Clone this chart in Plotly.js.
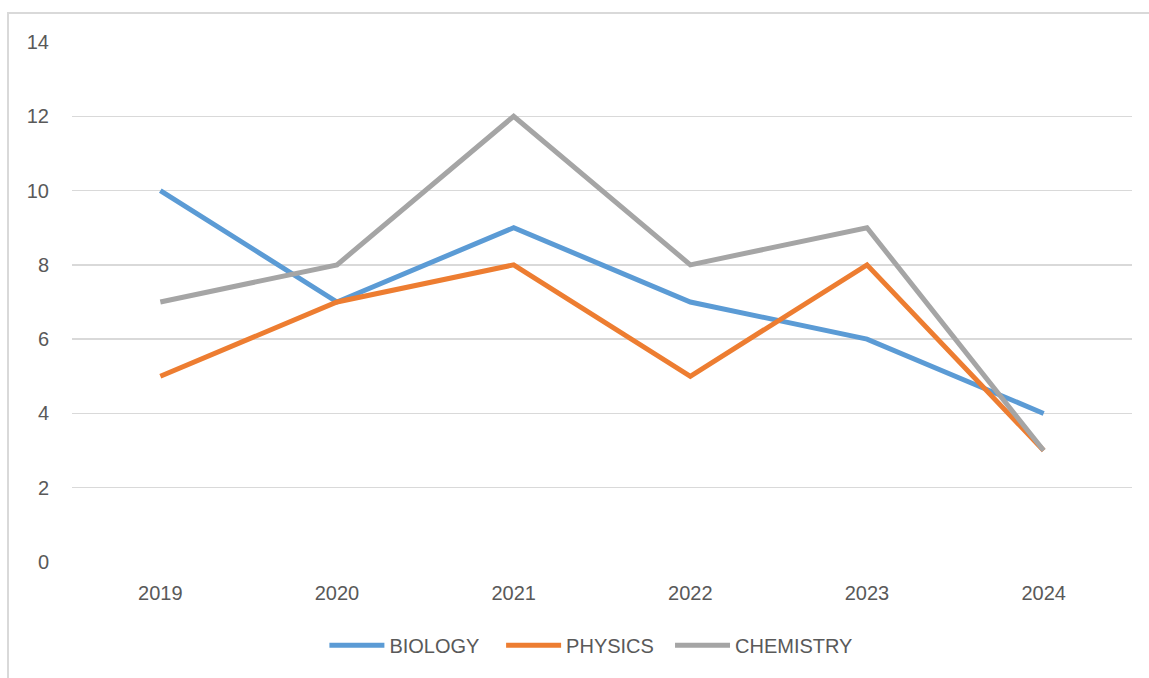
<!DOCTYPE html>
<html>
<head>
<meta charset="utf-8">
<script src="https://cdn.plot.ly/plotly-3.0.1.min.js"></script>
<style>
  html, body { margin: 0; padding: 0; background: #ffffff; overflow: hidden; }
  #chart { position: absolute; left: 0; top: 0; width: 1149px; height: 678px; }
  #frame { position: absolute; left: 7px; top: 12px; width: 1300px; height: 900px;
           border: 2px solid #d9d9d9; pointer-events: none; box-sizing: border-box; }
</style>
</head>
<body>
<div id="chart"></div>
<div id="frame"></div>
<script>
const years = ["2019", "2020", "2021", "2022", "2023", "2024"];
const biology = [10, 7, 9, 7, 6, 4];
const physics = [5, 7, 8, 5, 8, 3];
const chemistry = [7, 8, 12, 8, 9, 3];
const yTicks = [0, 2, 4, 6, 8, 10, 12, 14];
const seriesNames = ["BIOLOGY", "PHYSICS", "CHEMISTRY"];

const fontFam = "Liberation Sans, Arial, sans-serif";
const textColor = "#595959";

function line(name, ys, color) {
  return {
    x: years, y: ys, name: name, type: "scatter", mode: "lines",
    line: { color: color, width: 5 }, hoverinfo: "x+y+name"
  };
}

const data = [
  line(seriesNames[0] + "\u00a0\u00a0\u00a0", biology, "#5b9bd5"),
  line(seriesNames[1] + "\u00a0\u00a0", physics, "#ed7d31"),
  line(seriesNames[2], chemistry, "#a5a5a5")
];

const layout = {
  width: 1149, height: 678,
  margin: { l: 72, r: 17, t: 42, b: 116, pad: 0 },
  paper_bgcolor: "rgba(0,0,0,0)", plot_bgcolor: "#ffffff",
  font: { family: fontFam, size: 20, color: textColor },
  showlegend: true,
  legend: {
    orientation: "h", x: 0.49, xanchor: "center", y: -0.16, yanchor: "middle",
    font: { family: fontFam, size: 20, color: textColor },
    itemwidth: 55, tracegroupgap: 0, bgcolor: "rgba(0,0,0,0)"
  },
  xaxis: {
    type: "category", range: [-0.5, 5.5], showgrid: false, zeroline: false,
    showline: false, ticks: "", ticklabelstandoff: 17,
    tickfont: { family: fontFam, size: 20, color: textColor }
  },
  yaxis: {
    range: [0, 14], tickvals: yTicks, ticktext: yTicks.map(String),
    showgrid: true, gridcolor: "#d9d9d9", gridwidth: 1.5,
    zeroline: false, showline: false, ticks: "", ticklabelstandoff: 22,
    tickfont: { family: fontFam, size: 20, color: textColor }
  }
};

Plotly.newPlot("chart", data, layout, { displayModeBar: false, staticPlot: true });
</script>
</body>
</html>
